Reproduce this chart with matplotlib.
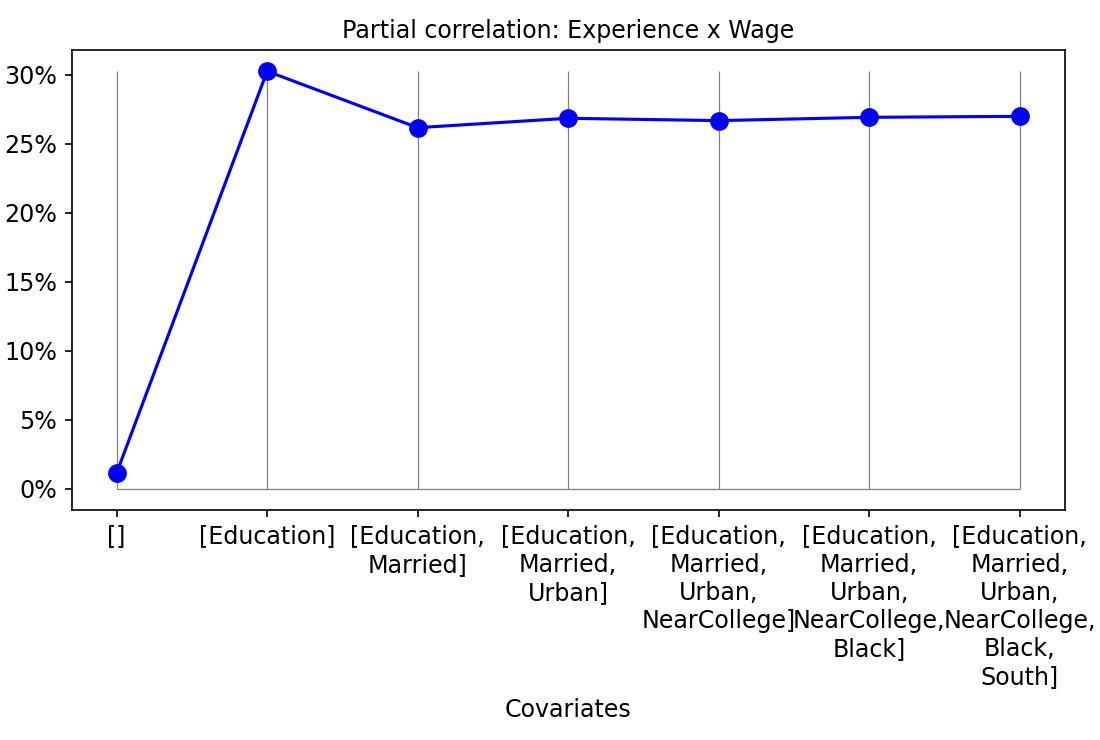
import matplotlib
matplotlib.use("Agg")
import matplotlib.pyplot as plt
from matplotlib.ticker import PercentFormatter

# covariate sets used for the partial correlation
covariates = ["[]",
              "[Education]",
              "[Education,\nMarried]",
              "[Education,\nMarried,\nUrban]",
              "[Education,\nMarried,\nUrban,\nNearCollege]",
              "[Education,\nMarried,\nUrban,\nNearCollege,\nBlack]",
              "[Education,\nMarried,\nUrban,\nNearCollege,\nBlack,\nSouth]"]
partial_corr = [0.0116, 0.3027, 0.2618, 0.2686, 0.2669, 0.2693, 0.2700]

fs = 11.4
fig = plt.figure(figsize=(1100 / 150, 740 / 150), dpi=150)
ax = fig.add_subplot(111)
xs = list(range(len(covariates)))

# grey guides: verticals from 0 up to the max, horizontal at 0
ax.vlines(xs, 0, max(partial_corr), color="grey", lw=0.6)
ax.hlines(0, xs[0], xs[-1], color="grey", lw=0.6)
ax.plot(xs, partial_corr, color="blue", marker="o", markersize=8, lw=1.5)

ax.set_xticks(xs)
ax.set_xticklabels(covariates, fontsize=fs, linespacing=1.22)
ax.tick_params(axis="y", labelsize=fs)
ax.yaxis.set_major_formatter(PercentFormatter(1.0, decimals=0))
ax.set_xlabel("Covariates", fontsize=11.4)
ax.set_title("Partial correlation: Experience x Wage", fontsize=11.4)

fig.subplots_adjust(left=0.065, right=0.968, top=0.932, bottom=0.311)
fig.savefig("out.png", dpi=150)
